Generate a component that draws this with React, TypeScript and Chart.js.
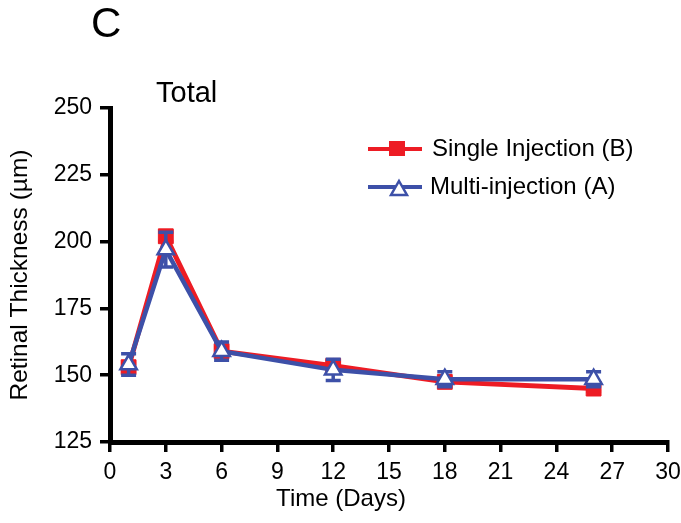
import React, { useEffect, useRef } from "react";
import { Chart, registerables } from "chart.js";

Chart.register(...registerables);

// ---- data ----
const days = [1, 3, 6, 12, 18, 26];
const singleInjection = [153, 202, 159, 153.5, 147.5, 145];
const singleErr = [1.5, 2, 1.5, 1.5, 1.5, 1];
const multiInjection = [154, 197, 159, 152, 148.5, 148.5];
const multiErr = [4, 6.5, 3.4, 4, 2.8, 2.8];
const xTickValues = [0, 3, 6, 9, 12, 15, 18, 21, 24, 27, 30];
const yTickValues = [125, 150, 175, 200, 225, 250];
const seriesLabels = ["Single Injection (B)", "Multi-injection (A)"];
const panelLetter = "C";
const panelTitle = "Total";
const xTitle = "Time (Days)";
const yTitle = "Retinal Thickness (\u00b5m)";

const RED = "#ed1c24";
const BLUE = "#3d50a8";
const FONT = "'Liberation Sans', Arial, Helvetica, sans-serif";

const errorsByDataset = [singleErr, multiErr];

const errorBarPlugin = {
  id: "errorBars",
  beforeDatasetDraw(chart: any, args: any) {
    const idx = args.index;
    const ds = chart.data.datasets[idx];
    const errs = errorsByDataset[idx];
    if (!errs) return;
    const xs = chart.scales.x;
    const ys = chart.scales.y;
    const ctx = chart.ctx;
    ctx.save();
    ctx.strokeStyle = ds.borderColor;
    ctx.lineWidth = 3.5;
    ds.data.forEach((p: any, i: number) => {
      const x = xs.getPixelForValue(p.x);
      const yT = ys.getPixelForValue(p.y + errs[i]);
      const yB = ys.getPixelForValue(p.y - errs[i]);
      ctx.beginPath();
      ctx.moveTo(x, yT);
      ctx.lineTo(x, yB);
      ctx.moveTo(x - 7.5, yT);
      ctx.lineTo(x + 7.5, yT);
      ctx.moveTo(x - 7.5, yB);
      ctx.lineTo(x + 7.5, yB);
      ctx.stroke();
    });
    ctx.restore();
  },
};

const decorPlugin = {
  id: "decor",
  afterDraw(chart: any) {
    const ctx = chart.ctx;
    ctx.save();
    ctx.fillStyle = "#000";
    ctx.textBaseline = "alphabetic";
    ctx.textAlign = "left";
    ctx.font = `42px ${FONT}`;
    ctx.fillText(panelLetter, 91, 37);
    ctx.font = `29px ${FONT}`;
    ctx.fillText(panelTitle, 156, 102);
    ctx.font = `24px ${FONT}`;
    ctx.textAlign = "center";
    ctx.fillText(xTitle, 341, 506);

    // legend
    ctx.textAlign = "left";
    ctx.textBaseline = "middle";
    // red
    ctx.strokeStyle = RED;
    ctx.lineWidth = 4;
    ctx.beginPath();
    ctx.moveTo(368, 149);
    ctx.lineTo(422, 149);
    ctx.stroke();
    ctx.fillStyle = RED;
    ctx.fillRect(389, 141, 16, 15);
    ctx.fillStyle = "#000";
    ctx.font = `24px ${FONT}`;
    ctx.fillText(seriesLabels[0], 432, 149);
    // blue
    ctx.strokeStyle = BLUE;
    ctx.beginPath();
    ctx.moveTo(368, 187);
    ctx.lineTo(422, 187);
    ctx.stroke();
    ctx.beginPath();
    ctx.moveTo(399, 181);
    ctx.lineTo(407, 195);
    ctx.lineTo(391, 195);
    ctx.closePath();
    ctx.fillStyle = "#fff";
    ctx.fill();
    ctx.lineWidth = 2.5;
    ctx.stroke();
    ctx.fillStyle = "#000";
    ctx.fillText(seriesLabels[1], 430, 187);
    ctx.restore();
  },
};

export default function App() {
  const ref = useRef<HTMLCanvasElement | null>(null);

  useEffect(() => {
    if (!ref.current) return;
    const chart = new Chart(ref.current, {
      type: "line",
      data: {
        datasets: [
          {
            label: seriesLabels[0],
            data: days.map((d, i) => ({ x: d, y: singleInjection[i] })),
            borderColor: RED,
            backgroundColor: RED,
            borderWidth: 5,
            pointStyle: "rect",
            pointRadius: 10.5,
            pointBorderWidth: 1,
            pointBackgroundColor: RED,
            pointBorderColor: RED,
            order: 2,
          },
          {
            label: seriesLabels[1],
            data: days.map((d, i) => ({ x: d, y: multiInjection[i] })),
            borderColor: BLUE,
            backgroundColor: "#fff",
            borderWidth: 4.5,
            pointStyle: "triangle",
            pointRadius: 9.5,
            pointBorderWidth: 2.5,
            pointBackgroundColor: "#fff",
            pointBorderColor: BLUE,
            order: 1,
          },
        ],
      },
      options: {
        responsive: false,
        animation: false,
        events: [],
        layout: { padding: { left: 0, top: 108, right: 13, bottom: 0 } },
        plugins: {
          legend: { display: false },
          tooltip: { enabled: false },
        },
        scales: {
          x: {
            type: "linear",
            min: 0,
            max: 30,
            afterBuildTicks: (s: any) => {
              s.ticks = xTickValues.map((v) => ({ value: v }));
            },
            afterFit: (s: any) => {
              s.height = 81;
              s.paddingLeft = 0;
              s.paddingRight = 0;
            },
            grid: {
              drawOnChartArea: false,
              drawTicks: true,
              tickLength: 10,
              color: "#000",
              lineWidth: 3.5,
            },
            border: { display: true, color: "#000", width: 5 },
            ticks: {
              color: "#000",
              padding: 7,
              maxRotation: 0,
              autoSkip: false,
              font: { family: FONT, size: 23 },
            },
          },
          y: {
            type: "linear",
            min: 125,
            max: 250,
            afterBuildTicks: (s: any) => {
              s.ticks = yTickValues.map((v) => ({ value: v }));
            },
            afterFit: (s: any) => {
              s.width = 110;
              s.paddingTop = 0;
              s.paddingBottom = 0;
            },
            grid: {
              drawOnChartArea: false,
              drawTicks: true,
              tickLength: 10,
              color: "#000",
              lineWidth: 3.5,
            },
            border: { display: true, color: "#000", width: 5 },
            ticks: {
              color: "#000",
              padding: 8,
              autoSkip: false,
              font: { family: FONT, size: 23 },
            },
            title: {
              display: true,
              text: yTitle,
              color: "#000",
              font: { family: FONT, size: 24.5 },
              padding: { top: 6, bottom: 0 },
            },
          },
        },
      },
      plugins: [errorBarPlugin, decorPlugin],
    });
    return () => chart.destroy();
  }, []);

  return (
    <div style={{ position: "absolute", left: 0, top: 0, width: 681, height: 523, background: "#fff" }}>
      <canvas ref={ref} width={681} height={523} style={{ width: 681, height: 523 }} />
    </div>
  );
}
